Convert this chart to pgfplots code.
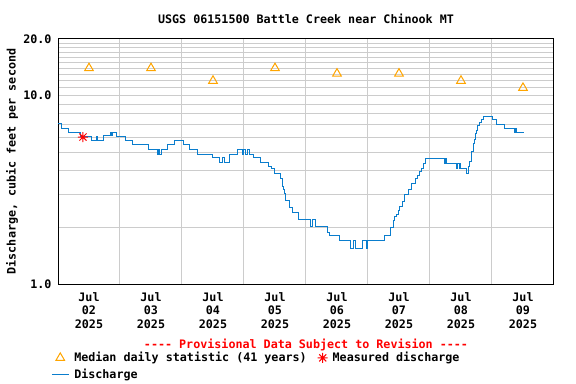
\documentclass[border=0pt]{standalone}
\usepackage{fontspec}
\usepackage{pgfplots}
\pgfplotsset{compat=1.18}
\newfontfamily\usgsfont{DejaVu Sans Mono}[Ligatures=TeXOff]
\newcommand\uf{\usgsfont\bfseries\fontsize{11.7bp}{13.3bp}\selectfont}
\definecolor{qblue}{RGB}{10,125,205}
\definecolor{qorange}{RGB}{255,165,0}
\definecolor{qgrid}{RGB}{204,204,204}
\pgfdeclareplotmark{usgsstar}{%
  \pgfpathmoveto{\pgfqpoint{-\pgfplotmarksize}{0pt}}\pgfpathlineto{\pgfqpoint{\pgfplotmarksize}{0pt}}%
  \pgfpathmoveto{\pgfqpoint{0pt}{-\pgfplotmarksize}}\pgfpathlineto{\pgfqpoint{0pt}{\pgfplotmarksize}}%
  \pgfpathmoveto{\pgfqpoint{-0.707\pgfplotmarksize}{-0.707\pgfplotmarksize}}\pgfpathlineto{\pgfqpoint{0.707\pgfplotmarksize}{0.707\pgfplotmarksize}}%
  \pgfpathmoveto{\pgfqpoint{-0.707\pgfplotmarksize}{0.707\pgfplotmarksize}}\pgfpathlineto{\pgfqpoint{0.707\pgfplotmarksize}{-0.707\pgfplotmarksize}}%
  \pgfusepathqstroke}
\pgfplotstableread{
x y
0.000 7.13
0.060 6.71
0.166 6.39
0.355 6.06
0.548 5.80
0.622 6.06
0.630 5.80
0.731 6.11
0.839 6.39
0.870 6.11
0.880 6.39
0.947 6.06
1.085 5.80
1.205 5.49
1.452 5.19
1.597 4.90
1.620 5.19
1.640 4.90
1.677 5.19
1.769 5.49
1.871 5.80
2.032 5.49
2.129 5.19
2.247 4.90
2.489 4.69
2.597 4.41
2.650 4.69
2.680 4.41
2.763 4.69
2.774 4.90
2.892 5.19
2.980 4.90
3.000 5.19
3.030 4.90
3.050 5.19
3.085 4.90
3.161 4.69
3.269 4.41
3.392 4.20
3.447 4.12
3.500 3.87
3.581 3.64
3.613 3.29
3.634 3.16
3.661 3.03
3.673 2.76
3.731 2.55
3.785 2.39
3.887 2.19
4.065 2.02
4.100 2.19
4.161 2.02
4.344 1.88
4.387 1.82
4.548 1.71
4.710 1.55
4.763 1.71
4.806 1.55
4.915 1.71
4.979 1.55
4.992 1.71
5.263 1.82
5.355 2.00
5.408 2.17
5.424 2.28
5.463 2.35
5.489 2.47
5.516 2.57
5.560 2.74
5.585 2.97
5.650 3.16
5.694 3.40
5.769 3.64
5.795 3.79
5.823 3.95
5.855 4.12
5.892 4.34
5.931 4.65
6.231 4.38
6.245 4.65
6.269 4.38
6.431 4.12
6.450 4.38
6.470 4.12
6.480 4.38
6.495 4.12
6.581 3.87
6.618 4.20
6.645 4.46
6.673 5.04
6.698 5.59
6.715 5.82
6.737 6.31
6.753 6.57
6.769 6.91
6.795 7.19
6.823 7.43
6.860 7.80
7.005 7.43
7.076 7.07
7.198 6.71
7.360 6.39
7.380 6.71
7.395 6.39
7.521 6.39
}\discharge
\pgfplotstableread{
x y
0.5 14.0
1.5 14.0
2.5 12.0
3.5 14.0
4.5 13.1
5.5 13.1
6.5 12.0
7.5 11.0
}\median
\begin{document}
\begin{tikzpicture}
\path[use as bounding box] (0,0) rectangle (576bp,384bp);
\begin{axis}[
  at={(58bp,100bp)}, anchor=south west,
  scale only axis, width=496bp, height=245bp,
  xmin=0, xmax=8, ymin=1, ymax=20, ymode=log, log basis y=10,
  xtick={0.5,1.5,2.5,3.5,4.5,5.5,6.5,7.5},
  xticklabels={{Jul\\02\\2025},{Jul\\03\\2025},{Jul\\04\\2025},{Jul\\05\\2025},{Jul\\06\\2025},{Jul\\07\\2025},{Jul\\08\\2025},{Jul\\09\\2025}},
  minor xtick={1,2,3,4,5,6,7},
  ytick={1,10,20}, yticklabels={1.0,10.0,20.0},
  minor ytick={2,3,4,5,6,7,8,9,11,12,13,14,15,16,17,18,19},
  xmajorgrids=false, xminorgrids=true, ymajorgrids=true, yminorgrids=true,
  grid style={qgrid, line width=1bp}, minor grid style={qgrid, line width=1bp},
  major tick length=0pt, minor tick length=0pt,
  axis line style={line width=1bp},
  /pgf/number format/assume math mode=true,
  ticklabel style={font=\uf},
  xticklabel style={align=center, yshift=-5bp},
  yticklabel style={xshift=-3bp},
  ylabel={Discharge, cubic feet per second},
  ylabel style={font=\uf, at={(axis description cs:-0.0927,0.5)}, anchor=center},
  legend columns=2,
  legend cell align=left,
  legend style={draw=none, fill=none, font=\uf, at={(axis description cs:-0.020,-0.262)}, anchor=north west, row sep=2bp,
    /tikz/every odd column/.append style={column sep=3bp},
    /tikz/every even column/.append style={column sep=9bp}},
  clip=false,
]
\addlegendimage{only marks, mark=triangle, mark size=5bp, qorange, mark options={line width=1bp}}
\addlegendentry{Median daily statistic (41 years)}
\addlegendimage{only marks, mark=usgsstar, red, mark size=5bp, mark options={line width=1bp}}
\addlegendentry{Measured discharge}
\addlegendimage{qblue, line width=1bp}
\addlegendentry{Discharge}
\addplot[forget plot, only marks, mark=triangle, mark size=5bp, qorange, mark options={line width=1bp}] table[x=x,y=y] {\median};
\addplot[forget plot, const plot, qblue, line width=1bp] table[x=x,y=y] {\discharge};
\addplot[forget plot, only marks, mark=usgsstar, red, mark size=5bp, mark options={line width=1bp}] coordinates {(0.403,6.03)};
\node[font=\uf, anchor=center] at (axis description cs:0.5,1.0816) {USGS 06151500 Battle Creek near Chinook MT};
\node[font=\uf, text=red, anchor=center] at (axis description cs:0.5,-0.249) {---- Provisional Data Subject to Revision ----};
\end{axis}
\end{tikzpicture}
\end{document}
